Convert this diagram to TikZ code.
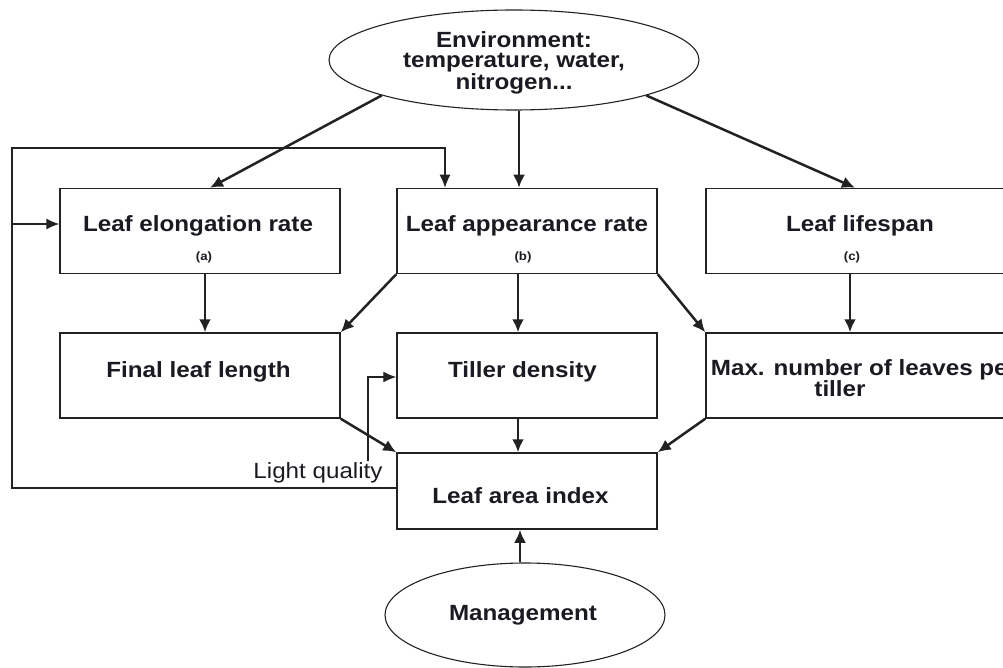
\documentclass[tikz,border=0pt]{standalone}
\usepackage{fontspec}
\setmainfont{Liberation Sans}[FakeStretch=1.1]
\usetikzlibrary{arrows.meta,shapes.geometric,calc}
\definecolor{ink}{HTML}{1A1A22}
\definecolor{linec}{HTML}{222222}
\begin{document}
\begin{tikzpicture}[x=1pt,y=-1pt,
  box/.style={draw=linec, line width=1.5pt, minimum width=#1, minimum height=85pt, inner sep=0pt},
  oval/.style={ellipse, draw=linec, line width=1.1pt, inner sep=0pt},
  txt/.style={font=\fontsize{22}{20}\selectfont\bfseries, text=ink, inner sep=0pt, anchor=base},
  tag/.style={font=\fontsize{12}{12}\selectfont\bfseries, text=ink, inner sep=0pt, anchor=base},
  arr/.style={draw=linec, line width=2.5pt, -{Latex[length=13pt,width=12pt]}},
  fb/.style={draw=linec, line width=1.3pt, -{Latex[length=13pt,width=11pt]}}
]
\useasboundingbox (0,0) rectangle (1003,668);
\clip (0,0) rectangle (1003,668);

% shapes
\node[oval, minimum width=370pt, minimum height=100pt] (Env) at (514,60) {};
\node[box=280pt] (A) at (200,231) {};
\node[box=260pt] (B) at (527,231) {};
\node[box=308pt] (C) at (860,231) {};
\node[box=280pt] (D) at (200,375.5) {};
\node[box=260pt] (E) at (527,375.5) {};
\node[box=308pt] (F) at (860,375.5) {};
\node[box=260pt, minimum height=76pt] (L) at (527,491) {};
\node[oval, minimum width=280pt, minimum height=104pt] (M) at (525,615) {};

% texts
\node[txt, anchor=north, align=center] (EnvT) at (514,31.5)
  {Environment:\\temperature, water,\\nitrogen...};
\node[txt] (AT) at (198,232) {Leaf elongation rate};
\node[tag] (Aa) at (204,260) {(a)};
\node[txt] (BT) at (527,232) {Leaf appearance rate};
\node[tag] (Bb) at (523,260) {(b)};
\node[txt] (CT) at (860,232) {Leaf lifespan};
\node[tag] (Cc) at (852,260) {(c)};
\node[txt] (DT) at (198.5,377) {Final leaf length};
\node[txt] (ET) at (522.5,377) {Tiller density};
\node[txt, anchor=north, align=center, font=\fontsize{22}{21}\selectfont\bfseries] (FT) at (864,359.5)
  {Max. number of leaves per\\tiller\hspace*{48pt}};
\node[txt] (LT) at (520.5,503) {Leaf area index};
\node[txt] (MT) at (523,620) {Management};
\node[txt, font=\fontsize{22}{20}\selectfont] (LQ) at (318,478) {Light quality};

% coordinates for the feedback loop
\coordinate (c2) at (12,148);
\coordinate (c4) at (12,224);
\coordinate (lq) at (368,461);

% arrows from environment
\draw[arr] (Env.195) -- ([xshift=10pt]A.north);
\draw[arr] ([xshift=5pt]Env.south) -- ([xshift=-8pt]B.north);
\draw[arr] (Env.345) -- ([xshift=-5pt]C.north);

% feedback from LAI
\draw[fb] ([yshift=3pt]L.west) -| (c2) -| ([xshift=-82pt]B.north);
\draw[fb] (c4) -- (c4 -| A.west);

% row 1 to row 2
\draw[arr] ([xshift=5pt]A.south) -- ([xshift=5pt]D.north);
\draw[arr] (B.south west) -- (D.north east);
\draw[arr] ([xshift=-9pt]B.south) -- ([xshift=-9pt]E.north);
\draw[arr] (B.south east) -- (F.north west);
\draw[arr] ([xshift=-10pt]C.south) -- ([xshift=-10pt]F.north);

% row 2 to LAI
\draw[arr] (D.south east) -- (L.north west);
\draw[arr] ([xshift=-9pt]E.south) -- ([xshift=-9pt]L.north);
\draw[arr] (F.south west) -- (L.north east);

% management
\draw[arr] ([xshift=-5pt]M.north) -- ([xshift=-7pt]L.south);

% light quality
\draw[fb] (lq) |- ([yshift=-1.5pt]E.west);
\end{tikzpicture}
\end{document}
